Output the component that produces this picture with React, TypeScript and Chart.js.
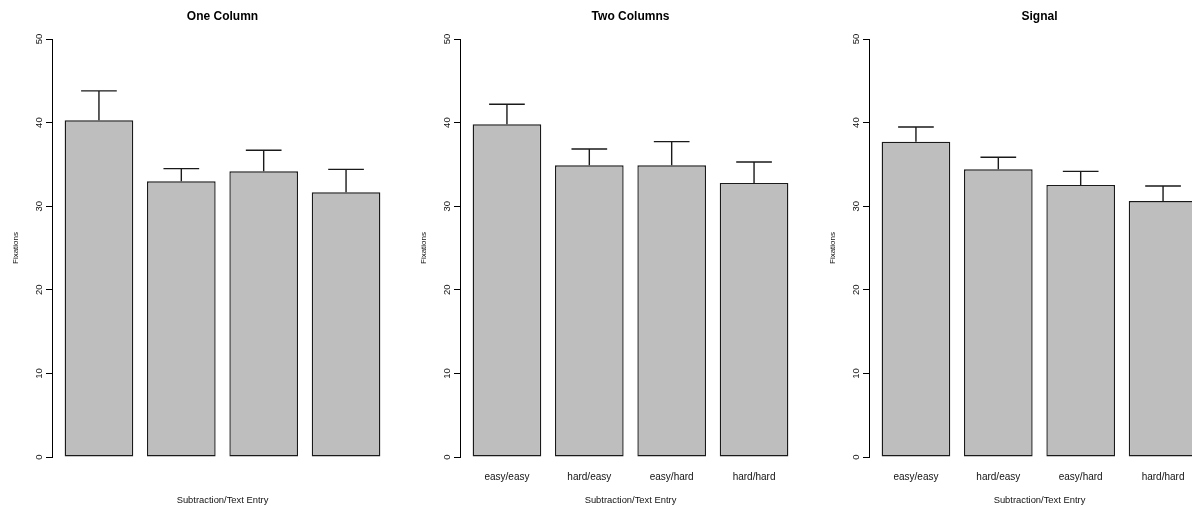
import React, { useEffect, useRef } from 'react';
import { Chart, registerables } from 'chart.js';

Chart.register(...registerables);

// ---------- data ----------
const panelTitles = ['One Column', 'Two Columns', 'Signal'];
const categories = ['easy/easy', 'hard/easy', 'easy/hard', 'hard/hard'];
const showCategoryLabels = [false, true, true];

const oneColumnMeans = [40.27, 32.98, 34.17, 31.66];
const oneColumnErrors = [3.53, 1.52, 2.53, 2.74];

const twoColumnsMeans = [39.8, 34.89, 34.89, 32.78];
const twoColumnsErrors = [2.4, 1.95, 2.83, 2.51];

const signalMeans = [37.72, 34.41, 32.54, 30.62];
const signalErrors = [1.75, 1.44, 1.63, 1.8];

const yTicks = [0, 10, 20, 30, 40, 50];
const xAxisTitle = 'Subtraction/Text Entry';
const yAxisTitle = 'Fixations';

const panelMeans = [oneColumnMeans, twoColumnsMeans, signalMeans];
const panelErrors = [oneColumnErrors, twoColumnsErrors, signalErrors];

// ---------- styling ----------
const FONT = "'Liberation Sans', Arial, Helvetica, sans-serif";
const TEXT = '#111';
const PANEL_W = 408;
const PANEL_H = 506;
const PANEL_STEP = 408.35;

const errorBarPlugin = {
  id: 'errorBars',
  afterDatasetsDraw(chart: any, _args: any, opts: any) {
    const errs: number[] = opts.errors || [];
    const meta = chart.getDatasetMeta(0);
    const yScale = chart.scales.y;
    const ctx = chart.ctx;
    ctx.save();
    ctx.strokeStyle = '#1a1a1a';
    ctx.lineWidth = 1.4;
    meta.data.forEach((bar: any, i: number) => {
      const raw = chart.data.datasets[0].data[i];
      const mean = raw.y;
      const topPx = yScale.getPixelForValue(mean + errs[i]);
      const { x, y, width } = bar.getProps(['x', 'y', 'width'], true);
      const half = width * 0.26;
      ctx.beginPath();
      ctx.moveTo(x, y);
      ctx.lineTo(x, topPx);
      ctx.moveTo(x - half, topPx);
      ctx.lineTo(x + half, topPx);
      ctx.stroke();
    });
    ctx.restore();
  },
};

function makeConfig(idx: number): any {
  const means = panelMeans[idx];
  const errors = panelErrors[idx];
  const labels = showCategoryLabels[idx] ? categories : categories.map(() => '');
  return {
    type: 'bar',
    data: {
      datasets: [
        {
          data: means.map((v, i) => ({ x: i, y: v })),
          backgroundColor: '#bebebe',
          borderColor: '#1a1a1a',
          borderWidth: 1.4,
          borderSkipped: false,
          barPercentage: 1 / 1.2,
          categoryPercentage: 1,
        },
      ],
    },
    options: {
      responsive: false,
      animation: false,
      layout: { padding: { left: 0, right: 15, top: 0, bottom: 0 } },
      plugins: {
        legend: { display: false },
        tooltip: { enabled: false },
        title: {
          display: true,
          text: panelTitles[idx],
          fullSize: false,
          color: '#000',
          font: { family: FONT, size: 12, weight: 'bold', lineHeight: 1.2 },
          padding: { top: 9, bottom: 39 - 9 - 14.4 },
        },
        errorBars: { errors },
      },
      scales: {
        x: {
          type: 'linear',
          min: -0.57,
          max: 3.57,
          offset: false,
          afterBuildTicks: (s: any) => {
            s.ticks = categories.map((_, i) => ({ value: i }));
          },
          afterFit: (s: any) => {
            s.height = 49;
          },
          grid: { display: false, drawTicks: false, tickLength: 0 },
          border: { display: false },
          ticks: {
            autoSkip: false,
            minRotation: 0,
            maxRotation: 0,
            padding: 14.5,
            color: TEXT,
            font: { family: FONT, size: 10, lineHeight: 1.2 },
            callback: (v: any) => labels[v] ?? '',
          },
          title: {
            display: true,
            text: xAxisTitle,
            color: TEXT,
            font: { family: FONT, size: 9.4, lineHeight: 1.2 },
            padding: { top: 0, bottom: 0 },
          },
        },
        y: {
          min: 0,
          max: 50,
          afterBuildTicks: (s: any) => {
            s.ticks = yTicks.map((v) => ({ value: v }));
          },
          afterFit: (s: any) => {
            s.width = 52;
          },
          grid: { drawOnChartArea: false, drawTicks: true, tickLength: 6, color: '#000', lineWidth: 1 },
          border: { display: true, color: '#000', width: 1 },
          ticks: {
            minRotation: 90,
            maxRotation: 90,
            crossAlign: 'center',
            padding: 1.6,
            color: TEXT,
            font: { family: FONT, size: 9.5, lineHeight: 1.2 },
          },
          title: {
            display: true,
            text: yAxisTitle,
            color: TEXT,
            font: { family: FONT, size: 8, lineHeight: 1.2 },
            padding: { top: 11.4, bottom: 0 },
          },
        },
      },
    },
    plugins: [errorBarPlugin],
  };
}

function Panel({ idx }: { idx: number }) {
  const ref = useRef<HTMLCanvasElement | null>(null);
  useEffect(() => {
    if (!ref.current) return;
    const chart = new Chart(ref.current, makeConfig(idx));
    return () => chart.destroy();
  }, [idx]);
  return (
    <canvas
      ref={ref}
      width={PANEL_W}
      height={PANEL_H}
      style={{
        position: 'absolute',
        left: Math.round(idx * PANEL_STEP),
        top: 0,
        width: PANEL_W,
        height: PANEL_H,
        display: 'block',
      }}
    />
  );
}

export default function App() {
  return (
    <div
      style={{
        position: 'fixed',
        left: 0,
        top: 0,
        width: 1192,
        height: 506,
        overflow: 'hidden',
        background: '#fff',
      }}
    >
      {panelTitles.map((_, i) => (
        <Panel key={i} idx={i} />
      ))}
    </div>
  );
}
